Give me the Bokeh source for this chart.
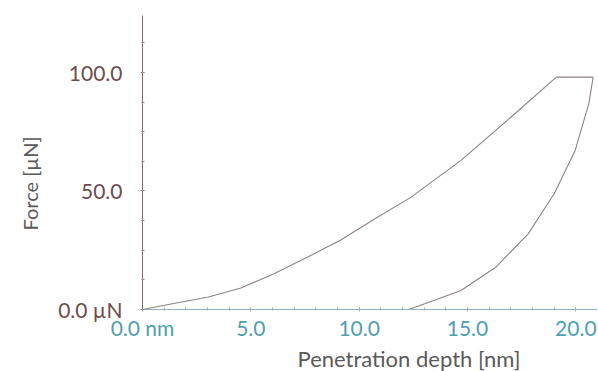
from bokeh.plotting import figure
from bokeh.models import Range1d, FixedTicker, Title
from bokeh.embed import file_html
from bokeh.resources import INLINE

# Loading curve (depth nm, force uN)
load_depth = [0.0, 1.44, 3.0, 4.54, 6.07, 7.6, 9.17, 10.56, 12.4, 14.7, 17.0, 19.1]
load_force = [0.0, 2.5, 5.2, 9.1, 15.1, 22.0, 29.4, 37.3, 47.4, 62.9, 81.1, 98.0]
# Hold at peak force
hold_depth = [19.1, 20.8]
hold_force = [98.0, 98.0]
# Unloading curve
unload_depth = [20.8, 20.6, 19.97, 19.0, 17.8, 16.3, 14.7, 12.3]
unload_force = [98.0, 86.8, 67.1, 48.8, 31.9, 17.8, 8.0, 0.0]

x_ticks = [0, 5, 10, 15, 20]
x_tick_labels = ["0.0 nm", "5.0", "10.0", "15.0", "20.0"]
y_ticks = [0, 50, 100]
y_tick_labels = ["0.0 µN", "50.0", "100.0"]

FONT = "Lato"
CURVE = "#8f8282"

p = figure(width=597, height=371, output_backend="svg", toolbar_location=None,
           x_range=Range1d(0, 21.0), y_range=Range1d(0, 124),
           min_border_left=142, min_border_top=15, min_border_bottom=62,
           min_border_right=0)
p.outline_line_color = None
p.grid.visible = False
p.background_fill_color = "white"

p.line(load_depth, load_force, line_color=CURVE, line_width=1.1)
p.line(hold_depth, hold_force, line_color=CURVE, line_width=1.1)
p.line(unload_depth, unload_force, line_color=CURVE, line_width=1.1)

xa = p.xaxis[0]
xa.ticker = FixedTicker(ticks=x_ticks, minor_ticks=[i for i in range(0, 22)])
xa.major_label_overrides = {t: l for t, l in zip(x_ticks, x_tick_labels)}
xa.axis_line_color = "#8fb3b8"
xa.major_tick_line_color = "#8fb3b8"
xa.minor_tick_line_color = "#8fb3b8"
xa.major_tick_in = 2
xa.major_tick_out = 2
xa.minor_tick_in = 2
xa.minor_tick_out = 1
xa.major_label_text_color = "#4e9fb0"
xa.major_label_text_font = FONT
xa.major_label_text_font_size = "21px"
xa.major_label_standoff = 3

ya = p.yaxis[0]
ya.ticker = FixedTicker(ticks=y_ticks, minor_ticks=[12.5 * i for i in range(0, 10)])
ya.major_label_overrides = {t: l for t, l in zip(y_ticks, y_tick_labels)}
ya.axis_line_color = "#7d6a6a"
ya.major_tick_line_color = "#9a8a8a"
ya.minor_tick_line_color = "#9a8a8a"
ya.major_tick_in = 2
ya.major_tick_out = 2
ya.minor_tick_in = 2
ya.minor_tick_out = 1
ya.major_label_text_color = "#6e4c4c"
ya.major_label_text_font = FONT
ya.major_label_text_font_size = "21px"
ya.major_label_standoff = 18

p.add_layout(Title(text="Penetration depth [nm]", align="left", offset=155,
                   text_font=FONT, text_font_size="22px", text_font_style="normal",
                   text_color="#5a5a5a", standoff=0), "below")
p.add_layout(Title(text="Force [µN]", align="left", offset=79,
                   text_font=FONT, text_font_size="20px", text_font_style="normal",
                   text_color="#5a5a5a", standoff=28), "left")

open("out.html", "w").write(file_html(p, INLINE))
